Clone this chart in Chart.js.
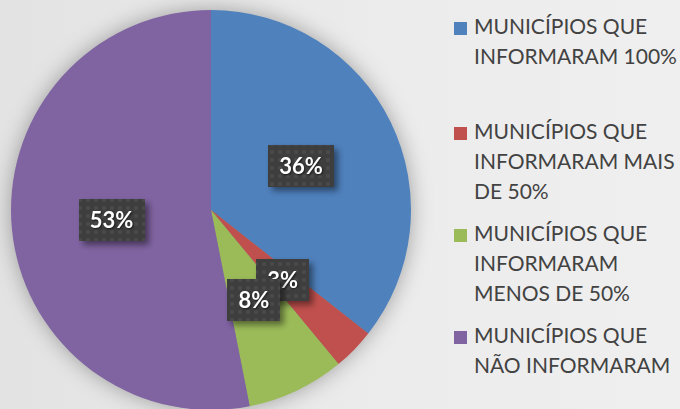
<!doctype html>
<html lang="pt">
  <head>
    <meta charset="utf-8">
    <title>Municípios que informaram</title>
    <script src="https://cdn.jsdelivr.net/npm/chart.js@4.4.0/dist/chart.umd.min.js"></script>
    <style>
      html, body { margin: 0; padding: 0; width: 680px; height: 409px; overflow: hidden; }
      body { position: relative; background: linear-gradient(to right, #e3e3e3, #ececec 60%, #efefef); font-family: Lato, "Open Sans", sans-serif; }
      #pie { position: absolute; left: -20px; top: -20px; }
      #legend { position: absolute; left: 454px; top: 0; }
      .item { position: absolute; left: 0; white-space: nowrap; }
      .item .box { position: absolute; left: 0; top: 11px; width: 13px; height: 13px; }
      .item .txt { position: absolute; left: 20px; top: 0; color: #424242; font-size: 21px; line-height: 30px; }
    </style>
  </head>
  <body>
    <canvas id="pie" width="462" height="460"></canvas>
    <div id="legend"></div>
    <script>
    // legend texts, one line per entry
    const categories = [
      ["MUNICÍPIOS QUE", "INFORMARAM 100%"],
      ["MUNICÍPIOS QUE", "INFORMARAM MAIS", "DE 50%"],
      ["MUNICÍPIOS QUE", "INFORMARAM", "MENOS DE 50%"],
      ["MUNICÍPIOS QUE", "NÃO INFORMARAM"]
    ];
    const shares = [35.6, 3.4, 7.9, 53.1];
    const shareLabels = ["36%", "3%", "8%", "53%"];
    const colors = ["#4f81bd", "#c0504d", "#9bbb59", "#8064a2"];

    // legend (multi-line entries, laid out in fixed slots)
    const legendTops = [11, 116, 218, 320];
    const legend = document.getElementById("legend");
    categories.forEach((lines, i) => {
      const item = document.createElement("div");
      item.className = "item";
      item.style.top = legendTops[i] + "px";
      item.innerHTML = '<div class="box" style="background:' + colors[i] + '"></div>' +
        '<div class="txt">' + lines.join("<br>") + '</div>';
      legend.appendChild(item);
    });

    // dotted dark texture for the value boxes
    const tile = document.createElement("canvas");
    tile.width = 8; tile.height = 8;
    const tctx = tile.getContext("2d");
    tctx.fillStyle = "#3e3e3e";
    tctx.fillRect(0, 0, 8, 8);
    tctx.fillStyle = "#4a4a4a";
    tctx.beginPath();
    tctx.arc(4, 4, 2.2, 0, Math.PI * 2);
    tctx.fill();

    const pieDecor = {
      id: "pieDecor",
      beforeDatasetsDraw(chart) {
        // soft shadow round the pie
        const arc = chart.getDatasetMeta(0).data[0];
        const ctx = chart.ctx;
        ctx.save();
        ctx.shadowColor = "rgba(0,0,0,0.35)";
        ctx.shadowBlur = 22;
        ctx.fillStyle = "#8a8a8a";
        ctx.beginPath();
        ctx.arc(arc.x, arc.y, arc.outerRadius - 1, 0, Math.PI * 2);
        ctx.fill();
        ctx.restore();
      },
      afterDatasetsDraw(chart) {
        const ctx = chart.ctx;
        const pattern = ctx.createPattern(tile, "repeat");
        ctx.save();
        ctx.font = "bold 22px Lato";
        ctx.textAlign = "center";
        ctx.textBaseline = "middle";
        chart.getDatasetMeta(0).data.forEach((arc, i) => {
          const p = arc.tooltipPosition();
          const text = shareLabels[i];
          const w = ctx.measureText(text).width + 22;
          const h = 42;
          ctx.save();
          ctx.shadowColor = "rgba(0,0,0,0.45)";
          ctx.shadowBlur = 6;
          ctx.shadowOffsetX = 4;
          ctx.shadowOffsetY = 4;
          ctx.fillStyle = pattern;
          ctx.fillRect(Math.round(p.x - w / 2), Math.round(p.y - h / 2), Math.round(w), h);
          ctx.restore();
          ctx.save();
          ctx.shadowColor = "rgba(0,0,0,0.6)";
          ctx.shadowBlur = 2;
          ctx.shadowOffsetX = 1;
          ctx.shadowOffsetY = 1;
          ctx.fillStyle = "#ffffff";
          ctx.fillText(text, p.x, p.y + 1);
          ctx.restore();
        });
        ctx.restore();
      }
    };

    new Chart(document.getElementById("pie"), {
      type: "pie",
      data: {
        labels: categories.map(l => l.join(" ")),
        datasets: [{
          data: shares,
          backgroundColor: colors,
          borderWidth: 0,
          hoverOffset: 0
        }]
      },
      options: {
        responsive: false,
        animation: false,
        layout: { padding: 30 },
        plugins: {
          legend: { display: false },
          tooltip: { enabled: false }
        }
      },
      plugins: [pieDecor]
    });
    </script>
  </body>
</html>
